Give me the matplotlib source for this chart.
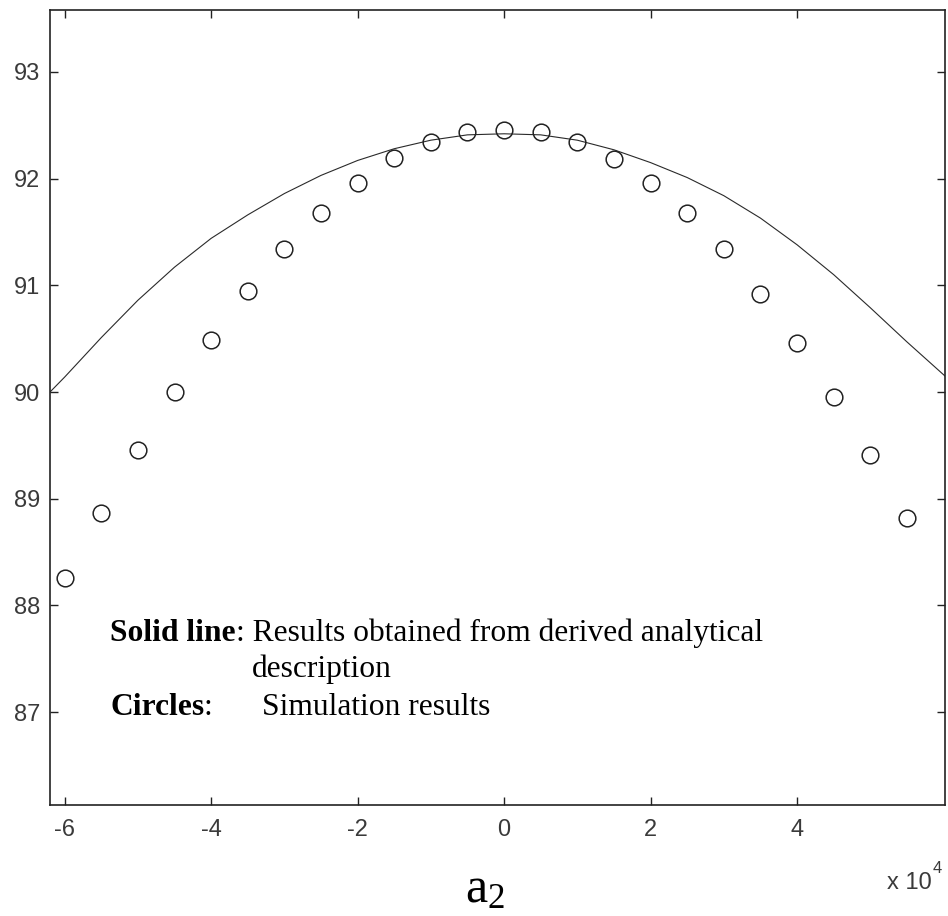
import numpy as np
import matplotlib
matplotlib.use('Agg')
from matplotlib import pyplot as plt
from matplotlib import font_manager

# analytical curve (solid line)
line_a2 = [-62000, -60000, -55000, -50000, -45000, -40000, -35000, -30000, -25000,
           -20000, -15000, -10000, -5000, 0, 5000, 10000, 15000, 20000, 25000,
           30000, 35000, 40000, 45000, 50000, 55000, 60200]
line_val = [90.00, 90.14, 90.51, 90.86, 91.17, 91.44, 91.66, 91.86, 92.03,
            92.17, 92.28, 92.36, 92.41, 92.42, 92.41, 92.36, 92.27, 92.15, 92.01,
            91.84, 91.63, 91.38, 91.10, 90.79, 90.47, 90.15]

# simulation results (circles)
sim_a2 = [-60000, -55000, -50000, -45000, -40000, -35000, -30000, -25000,
          -20000, -15000, -10000, -5000, 0, 5000, 10000, 15000, 20000, 25000,
          30000, 35000, 40000, 45000, 50000, 55000]
sim_val = [88.26, 88.87, 89.46, 90.00, 90.49, 90.95, 91.34, 91.68,
           91.96, 92.19, 92.34, 92.44, 92.46, 92.44, 92.34, 92.18, 91.96, 91.68,
           91.34, 90.92, 90.46, 89.95, 89.41, 88.82]

x_ticks = [-60000, -40000, -20000, 0, 20000, 40000]
x_labels = ['-6', '-4', '-2', '0', '2', '4']
y_ticks = [87, 88, 89, 90, 91, 92, 93]

W, H = 948, 916


def px(x, y):
    return x / W, 1 - y / H


# matlab-ish narrow tick font if we have it
names = {f.name for f in font_manager.fontManager.ttflist}
tick_font = 'Liberation Sans Narrow' if 'Liberation Sans Narrow' in names else 'Liberation Sans'
tick_size = 19 if tick_font == 'Liberation Sans Narrow' else 17

fig = plt.figure(figsize=(W / 100, H / 100), dpi=100)
ax = fig.add_axes([50 / W, 1 - 805 / H, 895 / W, 795 / H])

ax.plot(line_a2, line_val, color='#2a2a2a', linewidth=0.8)
ax.plot(sim_a2, sim_val, linestyle='none', marker='o', markersize=12,
        markerfacecolor='none', markeredgecolor='#222222', markeredgewidth=1.1)

ax.set_xlim(-62000, 60200)
ax.set_ylim(86.13, 93.58)
ax.set_xticks(x_ticks)
ax.set_xticklabels(x_labels)
ax.set_yticks(y_ticks)
ax.tick_params(direction='in', top=True, right=True, length=6, width=1,
               labelsize=tick_size, labelcolor='#3a3a3a', color='#222222')
ax.tick_params(axis='x', pad=10)
ax.tick_params(axis='y', pad=7)
for lab in ax.get_xticklabels() + ax.get_yticklabels():
    lab.set_family(tick_font)
for s in ax.spines.values():
    s.set_linewidth(1.2)
    s.set_color('#222222')

serif = 'Liberation Serif'
fs = 22.7
fig.text(*px(110, 641), 'Solid line', family=serif, weight='bold', fontsize=fs, va='baseline')
fig.text(*px(236, 641), ': Results obtained from derived analytical', family=serif,
         fontsize=fs, va='baseline')
fig.text(*px(252, 677), 'description', family=serif, fontsize=fs, va='baseline')
fig.text(*px(110, 715), 'Circles', family=serif, weight='bold', fontsize=fs, va='baseline')
fig.text(*px(203, 715), ':', family=serif, fontsize=fs, va='baseline')
fig.text(*px(262, 715), 'Simulation results', family=serif, fontsize=fs, va='baseline')

fig.text(*px(485, 902), r'$\mathregular{a_2}$', family=serif, fontsize=36,
         ha='center', va='baseline')
fig.text(*px(932, 889), 'x 10', family=tick_font, fontsize=tick_size,
         color='#3a3a3a', ha='right', va='baseline')
fig.text(*px(933, 873), '4', family=tick_font, fontsize=tick_size - 5,
         color='#3a3a3a', ha='left', va='baseline')

fig.savefig('out.png', dpi=100, facecolor='white')
